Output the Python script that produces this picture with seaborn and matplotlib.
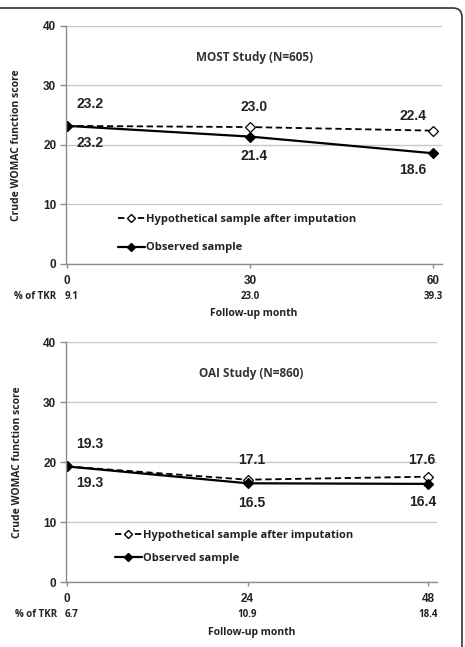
import pandas as pd
import matplotlib
matplotlib.use("Agg")
import matplotlib.pyplot as plt
from matplotlib.lines import Line2D
from matplotlib.patches import FancyBboxPatch
from matplotlib.transforms import IdentityTransform, blended_transform_factory
import seaborn as sns

# MOST study (N=605)
most_months = [0, 30, 60]
most_tkr = ["9.1", "23.0", "39.3"]
most_hypo = [23.2, 23.0, 22.4]
most_obs = [23.2, 21.4, 18.6]

# OAI study (N=860)
oai_months = [0, 24, 48]
oai_tkr = ["6.7", "10.9", "18.4"]
oai_hypo = [19.3, 17.1, 17.6]
oai_obs = [19.3, 16.5, 16.4]

series_labels = ["Hypothetical sample after imputation", "Observed sample"]
y_ticks = [0, 10, 20, 30, 40]

sns.set_style("white")
NUM_FONT = "Liberation Sans"
TXT_FONT = "Open Sans"

fig = plt.figure(figsize=(4.65, 6.47), dpi=100)
ax1 = fig.add_axes([0.142, 0.592, 0.809, 0.368])
ax2 = fig.add_axes([0.142, 0.100, 0.798, 0.371])

# label offsets in pixels (dx, dy) for hypothetical / observed values
most_off_h = [(23, 22), (4, 20), (-20, 15)]
most_off_o = [(23, -17), (4, -19), (-20, -17)]
oai_off_h = [(23, 22), (4, 20), (-6, 17)]
oai_off_o = [(23, -17), (4, -20), (-5, -18)]


def draw_panel(ax, months, tkr, hypo, obs, title, xlim, off_h, off_o, leg_anchor, leg_space):
    df = pd.DataFrame({"month": months, "hypo": hypo, "obs": obs})
    sns.lineplot(data=df, x="month", y="hypo", ax=ax, color="black", lw=1.3,
                 linestyle=(0, (3.5, 2)), marker="D", markersize=5,
                 markerfacecolor="white", markeredgecolor="black", markeredgewidth=0.9)
    sns.lineplot(data=df, x="month", y="obs", ax=ax, color="black", lw=1.6,
                 marker="D", markersize=5, markerfacecolor="black",
                 markeredgecolor="black", markeredgewidth=0.9)

    ax.set_xlim(*xlim)
    ax.set_ylim(0, 40)
    ax.set_yticks(y_ticks)
    ax.set_xticks(months)
    ax.grid(axis="y", color="#c8c8c8", lw=1)
    ax.set_axisbelow(True)
    for s in ["top", "right"]:
        ax.spines[s].set_visible(False)
    for s in ["left", "bottom"]:
        ax.spines[s].set_color("#8c8c8c")
        ax.spines[s].set_linewidth(1)
    ax.tick_params(axis="y", left=True, length=4, width=1, color="#8c8c8c", pad=3,
                   labelsize=8.5)
    ax.tick_params(axis="x", bottom=True, length=3, width=1, color="#8c8c8c", pad=5,
                   labelsize=8.5)
    for lab in ax.get_xticklabels() + ax.get_yticklabels():
        lab.set_fontfamily(NUM_FONT)
        lab.set_fontweight("bold")
        lab.set_color("#222222")

    ax.set_xlabel("")
    ax.set_ylabel("Crude WOMAC function score", fontsize=7.5, fontfamily=TXT_FONT,
                  fontweight="bold", color="#222222")
    ax.yaxis.set_label_coords(-0.117, 0.5)

    ax.text(0.5, 0.868, title, transform=ax.transAxes, ha="center", va="center",
            fontsize=8.5, fontfamily=TXT_FONT, fontweight="bold", color="#333333")

    px = 72 / 100
    for i, m in enumerate(months):
        dx, dy = off_h[i]
        ax.annotate(f"{hypo[i]:.1f}", (m, hypo[i]), xytext=(dx * px, dy * px),
                    textcoords="offset points", ha="center", va="center",
                    fontsize=10, fontfamily=NUM_FONT, fontweight="bold", color="#222222")
        dx, dy = off_o[i]
        ax.annotate(f"{obs[i]:.1f}", (m, obs[i]), xytext=(dx * px, dy * px),
                    textcoords="offset points", ha="center", va="center",
                    fontsize=10, fontfamily=NUM_FONT, fontweight="bold", color="#222222")

    # % of TKR row under the month ticks
    tr = blended_transform_factory(ax.transData, ax.transAxes)
    for i, (m, t) in enumerate(zip(months, tkr)):
        ax.annotate(t, (m, -0.135), xycoords=tr, xytext=(3 if i == 0 else 0, 0),
                    textcoords="offset points", ha="center", va="center", fontsize=7,
                    fontfamily=TXT_FONT, fontweight="bold", color="#222222")
    ax.text(-0.082, -0.135, "% of TKR", transform=ax.transAxes, ha="center", va="center",
            fontsize=7, fontfamily=TXT_FONT, fontweight="bold", color="#222222")
    ax.text(0.5, -0.21, "Follow-up month", transform=ax.transAxes, ha="center",
            va="center", fontsize=7.5, fontfamily=TXT_FONT, fontweight="bold",
            color="#222222")

    handles = [
        Line2D([], [], color="black", lw=1.3, linestyle=(0, (3.5, 2)), marker="D",
               markersize=4.5, markerfacecolor="white", markeredgecolor="black"),
        Line2D([], [], color="black", lw=1.6, marker="D", markersize=4.5,
               markerfacecolor="black", markeredgecolor="black"),
    ]
    leg = ax.legend(handles, series_labels, loc="upper left", bbox_to_anchor=leg_anchor,
                    frameon=False, borderaxespad=0, borderpad=0, handlelength=2.4,
                    handletextpad=0.1, labelspacing=leg_space,
                    prop={"family": TXT_FONT, "weight": "bold", "size": 8})
    for t in leg.get_texts():
        t.set_color("#222222")


draw_panel(ax1, most_months, most_tkr, most_hypo, most_obs, "MOST Study (N=605)",
           (-0.2, 61.5), most_off_h, most_off_o, (0.138, 0.209), 1.55)
draw_panel(ax2, oai_months, oai_tkr, oai_hypo, oai_obs, "OAI Study (N=860)",
           (-0.15, 49.2), oai_off_h, oai_off_o, (0.132, 0.219), 1.1)

# rounded frame around the whole figure (left and bottom edges fall off the canvas)
frame = FancyBboxPatch((-12, -40), 474, 679, boxstyle="round,pad=0,rounding_size=9",
                       transform=IdentityTransform(), fill=False, edgecolor="#333333",
                       lw=1.2, clip_on=False)
fig.patches.append(frame)

fig.savefig("out.png", dpi=100)
